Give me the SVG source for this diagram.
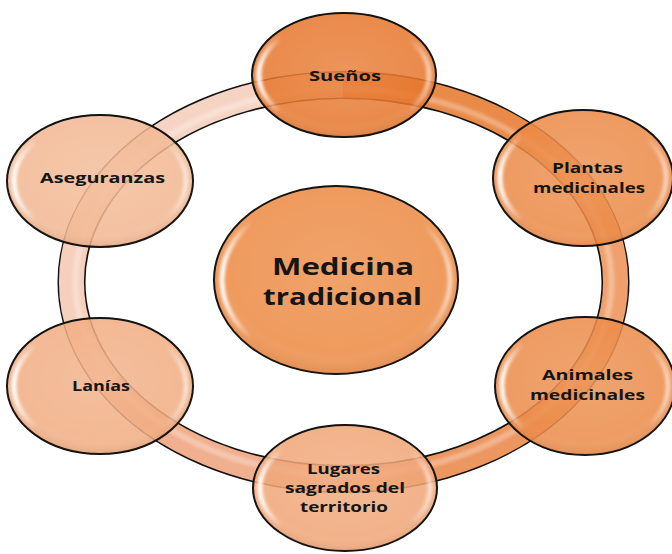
<svg xmlns="http://www.w3.org/2000/svg" width="672" height="554" viewBox="0 0 672 554">
<style>
.node{stroke:#111;stroke-width:2;fill-opacity:0.86}
.gloss{fill:none;stroke:url(#gloss);stroke-width:5;filter:url(#soft)}
.lbl{font-family:"Open Sans","Liberation Sans",sans-serif;font-weight:bold;fill:#151515}
.s{font-size:15px}
.b{font-size:24px}
.seg{fill:none;stroke-width:25}
</style>
<defs>
<linearGradient id="gloss" x1="0" y1="0" x2="1" y2="0">
<stop offset="0" stop-color="#fff" stop-opacity="0.95"/>
<stop offset="0.13" stop-color="#fff" stop-opacity="0"/>
<stop offset="0.88" stop-color="#fff" stop-opacity="0"/>
<stop offset="1" stop-color="#fff" stop-opacity="0.55"/>
</linearGradient>
<radialGradient id="shade" cx="0.5" cy="0.45" r="0.55">
<stop offset="0" stop-color="#fff" stop-opacity="0.08"/>
<stop offset="0.8" stop-color="#fff" stop-opacity="0"/>
<stop offset="1" stop-color="#7a3000" stop-opacity="0.12"/>
</radialGradient>
<filter id="soft" x="-10%" y="-10%" width="120%" height="120%"><feGaussianBlur stdDeviation="1.6"/></filter>
</defs>
<rect width="672" height="554" fill="#fff"/>
<g id="connectors">
<ellipse cx="343.5" cy="282" rx="272" ry="197" fill="none" stroke="#111" stroke-width="28"/>
<path class="seg" stroke="#E98A48" d="M343.5 85 A272 197 0 0 1 576.7 180.5"/>
<path class="seg" stroke="#F0A06C" d="M576.7 180.5 A272 197 0 0 1 576.7 383.5"/>
<path class="seg" stroke="#EC9660" d="M576.7 383.5 A272 197 0 0 1 343.5 479"/>
<path class="seg" stroke="#F0AF8E" d="M343.5 479 A272 197 0 0 1 110.3 383.5"/>
<path class="seg" stroke="#F5D0BD" d="M110.3 383.5 A272 197 0 0 1 110.3 180.5"/>
<path class="seg" stroke="#F6D4C4" d="M110.3 180.5 A272 197 0 0 1 343.5 85"/>
<ellipse cx="343.5" cy="282" rx="268" ry="193" fill="none" stroke="#fff" stroke-width="6" stroke-opacity="0.3" filter="url(#soft)"/>
</g>
<g id="center">
<ellipse cx="336" cy="280" rx="122" ry="94" fill="#EF9B5E" stroke="#111" stroke-width="2"/>
<ellipse cx="336" cy="280" rx="122" ry="94" fill="url(#shade)"/>
<ellipse class="gloss" cx="336" cy="280" rx="114" ry="86"/>
<text class="lbl b" x="272" y="275" textLength="142" lengthAdjust="spacingAndGlyphs">Medicina</text>
<text class="lbl b" x="263" y="305" textLength="159" lengthAdjust="spacingAndGlyphs">tradicional</text>
</g>
<g id="suenos">
<ellipse class="node" cx="344" cy="75" rx="92" ry="62" fill="#E6782F"/>
<ellipse cx="344" cy="75" rx="92" ry="62" fill="url(#shade)"/>
<ellipse class="gloss" cx="344" cy="75" rx="85" ry="55"/>
<text class="lbl s" x="309" y="81" textLength="72" lengthAdjust="spacingAndGlyphs">Sueños</text>
</g>
<g id="plantas">
<ellipse class="node" cx="583" cy="178" rx="90" ry="68" fill="#EB8A47"/>
<ellipse cx="583" cy="178" rx="90" ry="68" fill="url(#shade)"/>
<ellipse class="gloss" cx="583" cy="178" rx="83" ry="61"/>
<text class="lbl s" x="552" y="173" textLength="71" lengthAdjust="spacingAndGlyphs">Plantas</text>
<text class="lbl s" x="533" y="193" textLength="112" lengthAdjust="spacingAndGlyphs">medicinales</text>
</g>
<g id="animales">
<ellipse class="node" cx="585" cy="386" rx="90" ry="69" fill="#EB8C49"/>
<ellipse cx="585" cy="386" rx="90" ry="69" fill="url(#shade)"/>
<ellipse class="gloss" cx="585" cy="386" rx="83" ry="62"/>
<text class="lbl s" x="542" y="380" textLength="91" lengthAdjust="spacingAndGlyphs">Animales</text>
<text class="lbl s" x="530" y="400" textLength="115" lengthAdjust="spacingAndGlyphs">medicinales</text>
</g>
<g id="lugares">
<ellipse class="node" cx="345" cy="488" rx="92" ry="63" fill="#F0A678"/>
<ellipse cx="345" cy="488" rx="92" ry="63" fill="url(#shade)"/>
<ellipse class="gloss" cx="345" cy="488" rx="85" ry="56"/>
<text class="lbl s" x="307" y="474" textLength="73" lengthAdjust="spacingAndGlyphs">Lugares</text>
<text class="lbl s" x="285" y="493" textLength="120" lengthAdjust="spacingAndGlyphs">sagrados del</text>
<text class="lbl s" x="300" y="512" textLength="88" lengthAdjust="spacingAndGlyphs">territorio</text>
</g>
<g id="lanias">
<ellipse class="node" cx="100" cy="386" rx="93" ry="68" fill="#F1AE83"/>
<ellipse cx="100" cy="386" rx="93" ry="68" fill="url(#shade)"/>
<ellipse class="gloss" cx="100" cy="386" rx="86" ry="61"/>
<text class="lbl s" x="72" y="391" textLength="58" lengthAdjust="spacingAndGlyphs">Lanías</text>
</g>
<g id="aseguranzas">
<ellipse class="node" cx="100" cy="181" rx="93" ry="66" fill="#F2B893"/>
<ellipse cx="100" cy="181" rx="93" ry="66" fill="url(#shade)"/>
<ellipse class="gloss" cx="100" cy="181" rx="86" ry="59"/>
<text class="lbl s" x="40" y="183" textLength="125" lengthAdjust="spacingAndGlyphs">Aseguranzas</text>
</g>
</svg>
